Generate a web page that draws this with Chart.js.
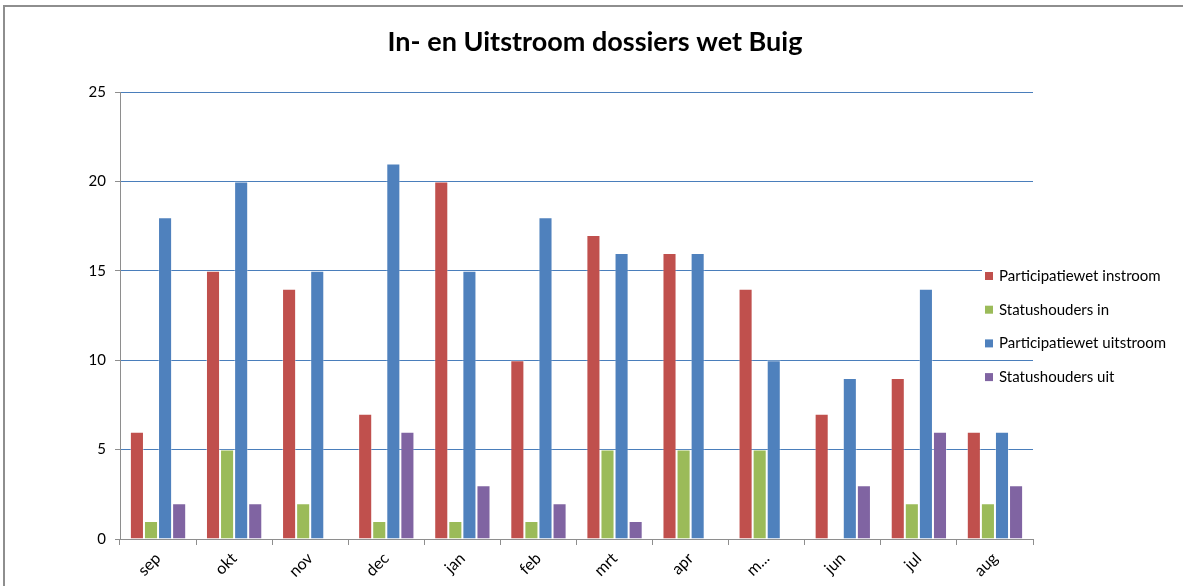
<!DOCTYPE html>
<html lang="nl">
<head>
<meta charset="utf-8">
<title>In- en Uitstroom dossiers wet Buig</title>
<script src="https://cdn.jsdelivr.net/npm/chart.js@4"></script>
<style>
  html, body { margin: 0; padding: 0; background: #fff; }
  #wrap { position: relative; width: 1183px; height: 586px; overflow: hidden; }
  #frame {
    position: absolute; left: 3px; top: 5px; width: 1200px; height: 600px;
    border-left: 2px solid #8e8e8e; border-top: 2px solid #8e8e8e;
    pointer-events: none;
  }
  canvas { position: absolute; left: 0; top: 0; }
</style>
</head>
<body>
<div id="wrap">
  <canvas id="buigChart" width="1183" height="586"></canvas>
  <div id="frame"></div>
</div>
<script>
const TITEL = "In- en Uitstroom dossiers wet Buig";

const maanden = ["sep", "okt", "nov", "dec", "jan", "feb", "mrt", "apr", "m...", "jun", "jul", "aug"];

const pwInstroom = [6, 15, 14, 7, 20, 10, 17, 16, 14, 7, 9, 6];
const statusIn = [1, 5, 2, 1, 1, 1, 5, 5, 5, null, 2, 2];
const pwUitstroom = [18, 20, 15, 21, 15, 18, 16, 16, 10, 9, 14, 6];
const statusUit = [2, 2, null, 6, 3, 2, 1, null, null, 3, 6, 3];

const yTicks = [0, 5, 10, 15, 20, 25];

const FONT = "Lato, 'Open Sans', sans-serif";

document.addEventListener("DOMContentLoaded", () => {
  renderChart();
});

// ======================
// TITEL + LEGENDA (legenda ligt over het plotvlak, zoals in Excel)
// ======================

const titelPlugin = {
  id: "titelMidden",
  afterDraw(chart) {
    const ctx = chart.ctx;
    ctx.save();
    ctx.font = "bold 27px " + FONT;
    ctx.fillStyle = "#000";
    ctx.textAlign = "center";
    ctx.textBaseline = "middle";
    ctx.fillText(TITEL, 595, 42);
    ctx.restore();
  }
};

const legendaPlugin = {
  id: "legendaRechts",
  afterDraw(chart) {
    const ctx = chart.ctx;
    const x = 985;
    const y0 = 276;
    const stap = 33.7;

    ctx.save();
    ctx.font = "15px " + FONT;
    ctx.textBaseline = "middle";
    ctx.textAlign = "left";

    chart.data.datasets.forEach((ds, i) => {
      const y = y0 + i * stap;
      ctx.fillStyle = "#fff";
      ctx.fillRect(x - 3, y - 9, 195, 18);
      ctx.fillStyle = ds.backgroundColor;
      ctx.fillRect(x, y - 4, 8, 8);
      ctx.fillStyle = "#000";
      ctx.fillText(ds.label, x + 14, y);
    });

    ctx.restore();
  }
};

// ======================
// GRAFIEK
// ======================

function renderChart() {
  const ctx = document.getElementById("buigChart");
  if (!ctx) return;

  new Chart(ctx, {
    type: "bar",
    data: {
      labels: maanden,
      datasets: [
        serie("Participatiewet instroom", pwInstroom, "#C0504D"),
        serie("Statushouders in", statusIn, "#9BBB59"),
        serie("Participatiewet uitstroom", pwUitstroom, "#4F81BD"),
        serie("Statushouders uit", statusUit, "#8064A2")
      ]
    },
    options: {
      responsive: false,
      animation: false,
      devicePixelRatio: 1,
      layout: {
        padding: { left: 0, right: 150, top: 92, bottom: 0 }
      },
      datasets: {
        bar: {
          categoryPercentage: 0.74,
          barPercentage: 1
        }
      },
      scales: {
        x: {
          grid: {
            display: true,
            drawOnChartArea: false,
            offset: true,
            tickLength: 6,
            tickColor: "#8e8e8e"
          },
          border: { color: "#8e8e8e", width: 1 },
          ticks: {
            color: "#000",
            font: { family: FONT, size: 16 },
            minRotation: 45,
            maxRotation: 45,
            padding: 4
          },
          afterFit(scale) { scale.height = 47; }
        },
        y: {
          min: 0,
          max: 25,
          afterBuildTicks(scale) {
            scale.ticks = yTicks.map(v => ({ value: v }));
          },
          grid: {
            color: c => (c.tick && c.tick.value === 0 ? "#8e8e8e" : "#4A7EBB"),
            lineWidth: 1,
            tickLength: 5,
            tickColor: "#8e8e8e"
          },
          border: { color: "#8e8e8e", width: 1 },
          ticks: {
            color: "#000",
            font: { family: FONT, size: 15 },
            padding: 9
          },
          afterFit(scale) { scale.width = 120; }
        }
      },
      plugins: {
        legend: { display: false },
        tooltip: { enabled: false },
        title: { display: false }
      }
    },
    plugins: [titelPlugin, legendaPlugin]
  });
}

// ======================
// HELPERS
// ======================

function serie(label, data, kleur) {
  return {
    label,
    data,
    backgroundColor: kleur,
    borderColor: "rgba(255,255,255,0.35)",
    borderWidth: { left: 1, right: 1, top: 1, bottom: 0 }
  };
}
</script>
</body>
</html>
